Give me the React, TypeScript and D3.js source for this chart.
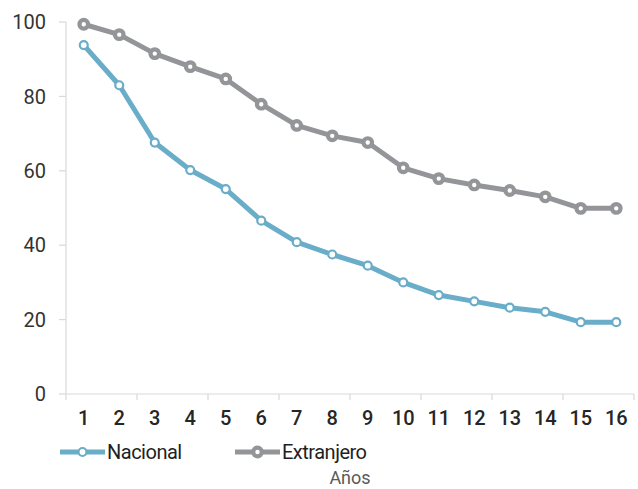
import React, { useEffect, useRef } from "react";
import * as d3 from "d3";

const years = ["1", "2", "3", "4", "5", "6", "7", "8", "9", "10", "11", "12", "13", "14", "15", "16"];
const nacional = [93.8, 83.0, 67.6, 60.2, 55.1, 46.6, 40.8, 37.5, 34.5, 30.0, 26.6, 24.9, 23.2, 22.1, 19.3, 19.3];
const extranjero = [99.4, 96.6, 91.5, 88.0, 84.7, 77.9, 72.2, 69.4, 67.6, 60.8, 57.9, 56.2, 54.7, 53.0, 49.9, 49.9];
const yTicks = [0, 20, 40, 60, 80, 100];

const BLUE = "#69adc9";
const GREY = "#939598";
const W = 638;
const H = 489;

export default function App() {
  const ref = useRef<SVGSVGElement>(null);

  useEffect(() => {
    const svg = d3.select(ref.current);
    svg.selectAll("*").remove();

    const left = 66, right = 634, top = 22, bottom = 394;

    const x = d3.scaleBand().domain(years).range([left, right]);
    const y = d3.scaleLinear().domain([0, 100]).range([bottom, top]);
    const cx = (i: number) => (x(years[i]) as number) + x.bandwidth() / 2;

    const font = "Roboto, 'Noto Sans', sans-serif";

    // y axis
    svg.append("line")
      .attr("x1", left).attr("x2", left)
      .attr("y1", y(100)).attr("y2", bottom)
      .attr("stroke", "#d9d9d9").attr("stroke-width", 1.2);
    const yt = svg.append("g");
    yt.selectAll("line").data(yTicks).enter().append("line")
      .attr("x1", left - 7).attr("x2", left)
      .attr("y1", (d) => y(d)).attr("y2", (d) => y(d))
      .attr("stroke", "#d9d9d9").attr("stroke-width", 1.2);
    yt.selectAll("text").data(yTicks).enter().append("text")
      .attr("x", 46).attr("y", (d) => y(d))
      .attr("dy", "0.36em")
      .attr("text-anchor", "end")
      .attr("font-family", font).attr("font-size", 20)
      .attr("fill", "#333")
      .text((d) => d);

    // x axis
    svg.append("line")
      .attr("x1", left).attr("x2", right)
      .attr("y1", bottom).attr("y2", bottom)
      .attr("stroke", "#d9d9d9").attr("stroke-width", 1.2);
    const tickIdx = d3.range(0, years.length + 1, 2);
    svg.append("g").selectAll("line").data(tickIdx).enter().append("line")
      .attr("x1", (i) => left + i * x.step()).attr("x2", (i) => left + i * x.step())
      .attr("y1", bottom).attr("y2", bottom + 6)
      .attr("stroke", "#d9d9d9").attr("stroke-width", 1.2);
    svg.append("g").selectAll("text").data(years).enter().append("text")
      .attr("x", (d, i) => cx(i)).attr("y", 425)
      .attr("text-anchor", "middle")
      .attr("font-family", font).attr("font-size", 20).attr("font-weight", 500)
      .attr("fill", "#262626")
      .text((d) => d);

    // series
    const line = d3.line<number>().x((d, i) => cx(i)).y((d) => y(d));
    svg.append("path").datum(extranjero)
      .attr("d", line).attr("fill", "none")
      .attr("stroke", GREY).attr("stroke-width", 5).attr("stroke-linejoin", "round");
    svg.append("g").selectAll("circle").data(extranjero).enter().append("circle")
      .attr("cx", (d, i) => cx(i)).attr("cy", (d) => y(d)).attr("r", 4.3)
      .attr("fill", "#fff").attr("stroke", GREY).attr("stroke-width", 4.2);

    svg.append("path").datum(nacional)
      .attr("d", line).attr("fill", "none")
      .attr("stroke", BLUE).attr("stroke-width", 5).attr("stroke-linejoin", "round");
    svg.append("g").selectAll("circle").data(nacional).enter().append("circle")
      .attr("cx", (d, i) => cx(i)).attr("cy", (d) => y(d)).attr("r", 4)
      .attr("fill", "#fff").attr("stroke", BLUE).attr("stroke-width", 2.2);

    // legend
    const legend = [
      { name: "Nacional", color: BLUE, x0: 60 },
      { name: "Extranjero", color: GREY, x0: 235 },
    ];
    const lg = svg.append("g");
    legend.forEach((l, k) => {
      lg.append("line")
        .attr("x1", l.x0).attr("x2", l.x0 + 45)
        .attr("y1", 452).attr("y2", 452)
        .attr("stroke", l.color).attr("stroke-width", 5);
      lg.append("circle")
        .attr("cx", l.x0 + 22.5).attr("cy", 452)
        .attr("r", k === 0 ? 4 : 4.3)
        .attr("fill", "#fff").attr("stroke", l.color)
        .attr("stroke-width", k === 0 ? 2.2 : 4.2);
      lg.append("text")
        .attr("x", l.x0 + 47).attr("y", 452).attr("dy", "0.36em")
        .attr("font-family", font).attr("font-size", 20)
        .attr("letter-spacing", -0.5)
        .attr("fill", "#1f1f1f")
        .text(l.name);
    });

    svg.append("text")
      .attr("x", (left + right) / 2).attr("y", 478).attr("dy", "0.36em")
      .attr("text-anchor", "middle")
      .attr("font-family", font).attr("font-size", 18)
      .attr("fill", "#595959")
      .text("Años");
  }, []);

  return (
    <svg ref={ref} width={W} height={H}
      style={{ position: "absolute", left: 0, top: 0, background: "#fff" }} />
  );
}
